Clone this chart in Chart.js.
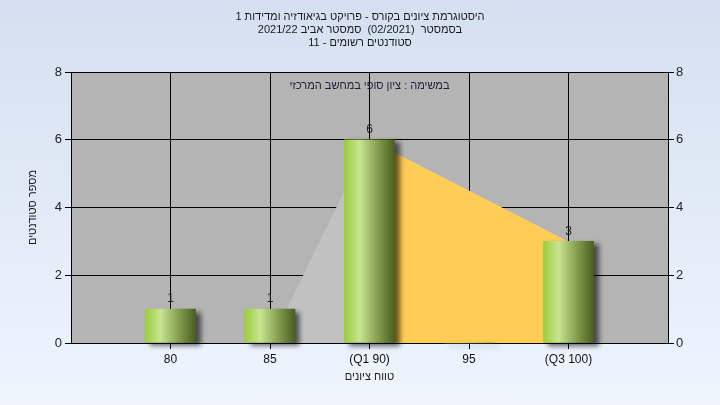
<!DOCTYPE html>
<html><head><meta charset="utf-8">
<script src="https://cdn.jsdelivr.net/npm/chart.js@4"></script>
<style>
html,body{margin:0;padding:0}
body{width:720px;height:405px;overflow:hidden;background:linear-gradient(#d4e0f1,#eef5fd)}
canvas{display:block}
</style></head><body>
<canvas id="chart" width="720" height="405" dir="rtl"></canvas>
<script>
const titleLines=['היסטוגרמת ציונים בקורס - פרויקט בגיאודזיה ומדידות 1','בסמסטר  (02/2021)  סמסטר אביב 2021/22','סטודנטים רשומים - 11'];
const noteText='במשימה : ציון סופי במחשב המרכזי';
const grades=[80,85,90,95,100];
const students=[1,1,6,0,3];
const tickNames={90:'(Q1 90)',100:'(Q3 100)'};
const yTicks=[0,2,4,6,8];
// shaded areas between the quartile bars
const rampGrades=[85,90], rampValues=[0,6];
const spanGrades=[90,100], spanValues=[6,3];

const FONT='"Liberation Sans","DejaVu Sans",sans-serif';

function barFill(c){
  const ch=c.chart;
  if(c.type!=='data'||!ch.chartArea) return '#9c3';
  const x=ch.scales.x.getPixelForValue(c.raw.x);
  const g=ch.ctx.createLinearGradient(x-25,0,x+25,0);
  g.addColorStop(0,'#9acd3c');
  g.addColorStop(0.3,'#c8e590');
  g.addColorStop(0.65,'#86a152');
  g.addColorStop(1,'#4a5f1f');
  return g;
}

const plotBg={id:'plotBg',beforeDraw(ch){
  const a=ch.chartArea,c=ch.ctx;
  c.save();c.fillStyle='#b4b4b4';c.fillRect(a.left,a.top,a.right-a.left,a.bottom-a.top);c.restore();
}};
const barShadow={id:'barShadow',
  beforeDatasetDraw(ch,args){
    if(args.meta.type!=='bar')return;
    const c=ch.ctx;c.save();
    c.shadowColor='rgba(0,0,0,0.6)';c.shadowBlur=5;c.shadowOffsetX=5;c.shadowOffsetY=3;
  },
  afterDatasetDraw(ch,args){ if(args.meta.type==='bar') ch.ctx.restore(); }
};
const labels={id:'labels',afterDatasetsDraw(ch){
  const c=ch.ctx,a=ch.chartArea;
  c.save();
  c.font='12px '+FONT;c.textAlign='center';c.fillStyle='#222';
  ch.data.datasets.forEach((ds,i)=>{
    if(ds.type!=='bar')return;
    ch.getDatasetMeta(i).data.forEach((el,j)=>{
      if(students[j]>0){c.textBaseline='bottom';c.fillText(String(students[j]),el.x,el.y-4);}
    });
  });
  c.font='11px '+FONT;c.fillStyle='#1e1e3c';c.textBaseline='middle';
  c.fillText(noteText,(a.left+a.right)/2,a.top+14);
  c.restore();
}};

const pts=(xs,ys)=>xs.map((x,i)=>({x:x,y:ys[i]}));

new Chart(document.getElementById('chart'),{
  type:'bar',
  data:{datasets:[
    {type:'bar',data:pts(grades,students),backgroundColor:barFill,borderWidth:0,barThickness:50,order:1,clip:false},
    {type:'line',data:pts(rampGrades,rampValues),fill:'origin',backgroundColor:'#c1c1c1',borderWidth:0,pointRadius:0,order:2},
    {type:'line',data:pts(spanGrades,spanValues),fill:'origin',backgroundColor:'#ffcc55',borderWidth:0,pointRadius:0,order:2}
  ]},
  options:{
    responsive:false,animation:false,
    layout:{padding:0},
    plugins:{
      legend:{display:false},tooltip:{enabled:false},
      title:{display:true,text:titleLines,color:'#1a1a1a',font:{family:FONT,size:11,weight:'normal',lineHeight:'13px'},padding:{top:10,bottom:23}}
    },
    scales:{
      x:{type:'linear',min:75,max:105,offset:false,
        afterBuildTicks:s=>{s.ticks=grades.map(v=>({value:v}));},
        afterFit:s=>{s.height=62;},
        ticks:{color:'#111',font:{family:FONT,size:12},callback:v=>tickNames[v]||String(v),maxRotation:0,autoSkip:false},
        grid:{color:'#000',tickLength:6,offset:false},border:{color:'#000'},
        title:{display:true,text:'טווח ציונים',color:'#1a1a1a',font:{family:FONT,size:11},padding:{top:0,bottom:21}}
      },
      y:{position:'left',min:0,max:8,
        afterBuildTicks:s=>{s.ticks=yTicks.map(v=>({value:v}));},
        afterFit:s=>{s.width=71;},
        ticks:{color:'#222',font:{family:FONT,size:13}},
        grid:{color:'#000',tickLength:6},border:{color:'#000'},
        title:{display:true,text:'מספר סטודנטים',color:'#1a1a1a',font:{family:FONT,size:11},padding:{top:26,bottom:0}}
      },
      y2:{position:'right',min:0,max:8,
        afterBuildTicks:s=>{s.ticks=yTicks.map(v=>({value:v}));},
        afterFit:s=>{s.width=52;},
        ticks:{color:'#222',font:{family:FONT,size:13},padding:2},
        grid:{drawOnChartArea:false,color:'#000',tickLength:6},border:{color:'#000'}
      }
    }
  },
  plugins:[plotBg,barShadow,labels]
});
</script>
</body></html>
